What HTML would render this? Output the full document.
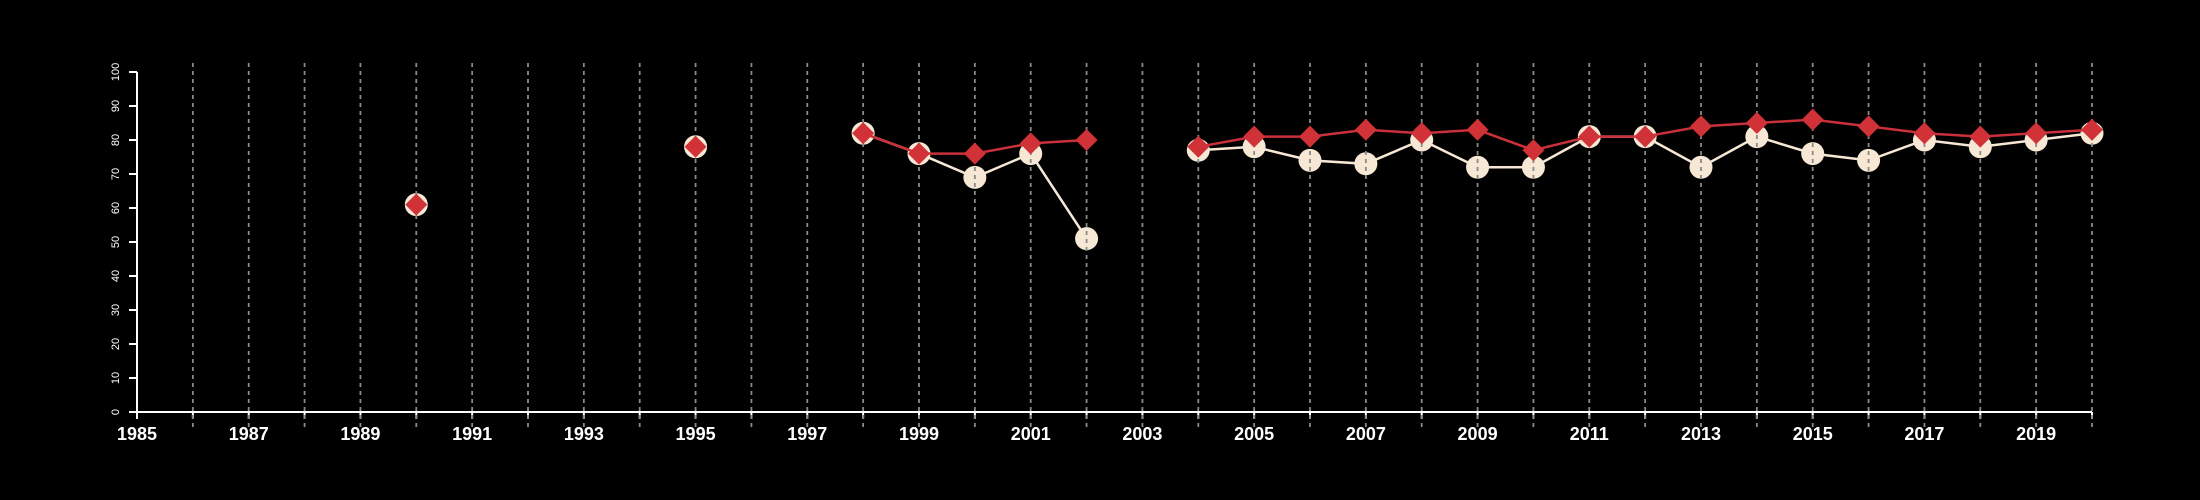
<!DOCTYPE html>
<html><head><meta charset="utf-8"><style>
html,body{margin:0;padding:0;background:#000;}
svg{display:block;}
text{font-family:"Liberation Sans",sans-serif;fill:#fff;}
</style></head><body>
<svg id="chart" width="2200" height="500" xmlns="http://www.w3.org/2000/svg">
<rect width="2200" height="500" fill="#000"/>
<g id="axes"></g>
<g id="cream"></g>
<g id="grid"></g>
<g id="series"></g>
</svg>
<script>
const years = [1990,1995,1998,1999,2000,2001,2002,2004,2005,2006,2007,2008,2009,2010,2011,2012,2013,2014,2015,2016,2017,2018,2019,2020];
const redValues = [61,78,82,76,76,79,80,78,81,81,83,82,83,77,81,81,84,85,86,84,82,81,82,83];
const creamValues = [61,78,82,76,69,76,51,77,78,74,73,80,72,72,81,81,72,81,76,74,80,78,80,82];
const yTicks = [0,10,20,30,40,50,60,70,80,90,100];
const xLabelYears = [1985,1987,1989,1991,1993,1995,1997,1999,2001,2003,2005,2007,2009,2011,2013,2015,2017,2019];

const NS = "http://www.w3.org/2000/svg";
const X0 = 137, X1 = 2092, Y0 = 412, Y1 = 72;
const xMin = 1985, xMax = 2020;
function xs(v){ return X0 + (v - xMin) / (xMax - xMin) * (X1 - X0); }
function ys(v){ return Y0 - v / 100 * (Y0 - Y1); }
function mk(tag, attrs, parent){
  const e = document.createElementNS(NS, tag);
  for (const k in attrs) e.setAttribute(k, attrs[k]);
  parent.appendChild(e);
  return e;
}
const grid = document.getElementById('grid');
const axes = document.getElementById('axes');
const cream = document.getElementById('cream');
const series = document.getElementById('series');

for (let yr = xMin + 1; yr <= xMax; yr++) {
  const l = mk('line', {x1: xs(yr), x2: xs(yr), y1: 63, y2: 427, stroke: '#8a8a8a', 'stroke-width': 1.8, 'stroke-dasharray': '4,4'}, grid);
  
  
}
const xa = mk('line', {x1: X0, x2: X1, y1: Y0, y2: Y0, stroke: '#fff', 'stroke-width': 2}, axes);


const ya = mk('line', {x1: X0, x2: X0, y1: Y0, y2: Y1, stroke: '#fff', 'stroke-width': 2}, axes);


for (let yr = xMin; yr <= xMax; yr++) {
  const t = mk('line', {x1: xs(yr), x2: xs(yr), y1: Y0, y2: Y0 + 7, stroke: '#fff', 'stroke-width': 2}, axes);
  
  
}
xLabelYears.forEach(yr => {
  const t = mk('text', {x: xs(yr), y: 440, 'text-anchor': 'middle', 'font-size': 18, 'font-weight': 'bold'}, axes);
  t.textContent = yr;
  
  
});
yTicks.forEach(v => {
  const t = mk('line', {x1: X0 - 8, x2: X0, y1: ys(v), y2: ys(v), stroke: '#fff', 'stroke-width': 2}, axes);
  
  
  const tx = mk('text', {x: 0, y: 0, 'text-anchor': 'middle', 'font-size': 11, transform: 'translate(119,' + ys(v) + ') rotate(-90)'}, axes);
  tx.textContent = v;
  
  
});

function segments(vals){
  const segs = []; let cur = [];
  years.forEach((yr, i) => {
    if (i > 0 && yr - years[i-1] > 1) { segs.push(cur); cur = []; }
    cur.push([xs(yr), ys(vals[i])]);
  });
  segs.push(cur);
  return segs;
}
function drawLine(vals, color, name, parent){
  segments(vals).forEach(s => {
    if (s.length < 2) return;
    const p = mk('polyline', {points: s.map(q => q.join(',')).join(' '), fill: 'none', stroke: color, 'stroke-width': 2.5}, parent);
    
    
  });
}
drawLine(creamValues, '#f7e8d6', 'cream-series-line', cream);
years.forEach((yr, i) => {
  const c = mk('circle', {cx: xs(yr), cy: ys(creamValues[i]), r: 11.5, fill: '#f7e8d6'}, cream);
  
  
});
drawLine(redValues, '#c9303a', 'red-series-line', series);
years.forEach((yr, i) => {
  const x = xs(yr), y = ys(redValues[i]), d = 11;
  const p = mk('polygon', {points: `${x},${y-d} ${x+d},${y} ${x},${y+d} ${x-d},${y}`, fill: '#d03238'}, series);
  
  
});
</script>
</body></html>
